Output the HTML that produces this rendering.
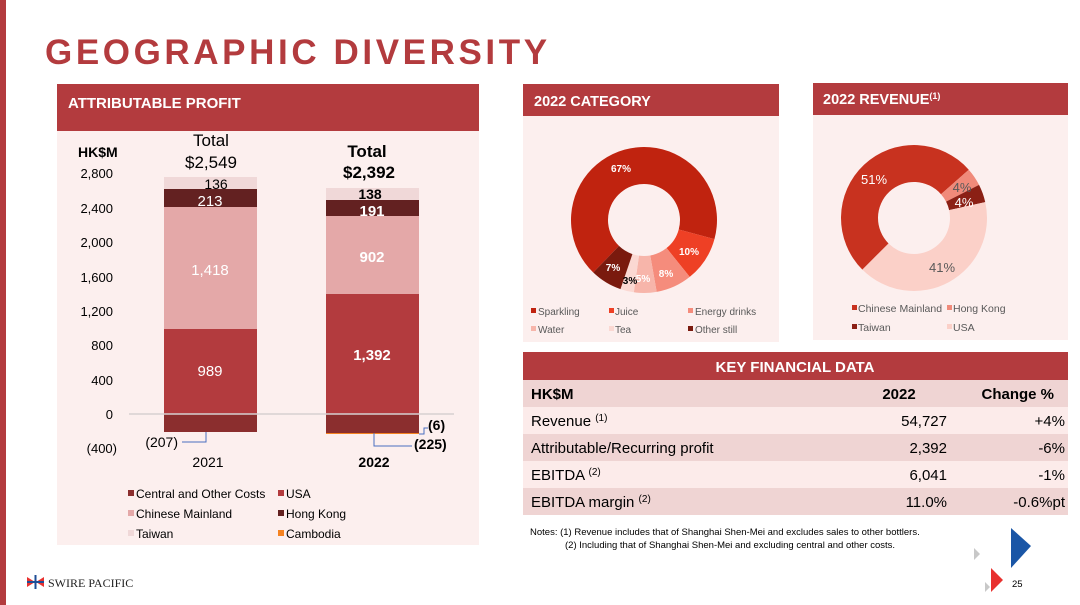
<!DOCTYPE html>
<html><head><meta charset="utf-8"><style>
html,body{margin:0;padding:0;background:#fff;}
svg{display:block;font-family:"Liberation Sans",Arial,sans-serif;}
</style></head><body>
<svg id="s" width="1080" height="605" viewBox="0 0 1080 605" xmlns="http://www.w3.org/2000/svg">
<rect x="0" y="0" width="6" height="605" fill="#b33b3e"/>
<text x="45" y="64" font-size="35" font-weight="bold" fill="#b33b3e" letter-spacing="3.6">GEOGRAPHIC DIVERSITY</text>

<rect x="57" y="131" width="422" height="414" fill="#fcefee"/>
<rect x="57" y="84" width="422" height="47" fill="#b33b3e"/>
<text x="68" y="108" font-size="15" font-weight="bold" fill="#fff">ATTRIBUTABLE PROFIT</text>

<g font-size="13" fill="#000" text-anchor="end">
<text x="113" y="178">2,800</text><text x="113" y="213">2,400</text><text x="113" y="247">2,000</text>
<text x="113" y="282">1,600</text><text x="113" y="316">1,200</text><text x="113" y="350">800</text>
<text x="113" y="385">400</text><text x="113" y="419">0</text><text x="117" y="453">(400)</text>
</g>
<text x="78" y="157" font-size="14" font-weight="bold">HK$M</text>
<rect x="164" y="414" width="93" height="18" fill="#8b2e2e"/>
<rect x="164" y="329" width="93" height="85" fill="#b33b3e"/>
<rect x="164" y="207" width="93" height="122" fill="#e4a8a8"/>
<rect x="164" y="189" width="93" height="18" fill="#632121"/>
<rect x="164" y="177" width="93" height="12" fill="#f0d8d8"/>
<rect x="326" y="414" width="93" height="19" fill="#8b2e2e"/>
<rect x="326" y="433" width="93" height="1" fill="#f58220"/>
<rect x="326" y="294" width="93" height="120" fill="#b33b3e"/>
<rect x="326" y="216" width="93" height="78" fill="#e4a8a8"/>
<rect x="326" y="200" width="93" height="16" fill="#632121"/>
<rect x="326" y="188" width="93" height="12" fill="#f0d8d8"/>
<line x1="129" y1="414" x2="454" y2="414" stroke="#d6d0d0" stroke-width="1.5"/>
<g font-size="15" fill="#fff" text-anchor="middle">
<text x="210" y="376">989</text><text x="210" y="275">1,418</text><text x="210" y="206">213</text>
<text x="372" y="360" font-weight="bold">1,392</text><text x="372" y="262" font-weight="bold">902</text><text x="372" y="216" font-weight="bold">191</text>
</g>
<text x="216" y="189" font-size="14" text-anchor="middle">136</text>
<text x="370" y="199" font-size="14" font-weight="bold" text-anchor="middle">138</text>
<text x="211" y="146" font-size="17" text-anchor="middle">Total</text>
<text x="211" y="168" font-size="17" text-anchor="middle">$2,549</text>
<text x="367" y="157" font-size="17" font-weight="bold" text-anchor="middle">Total</text>
<text x="369" y="178" font-size="17" font-weight="bold" text-anchor="middle">$2,392</text>
<polyline points="206,432 206,442 182,442" fill="none" stroke="#4a6fc0" stroke-width="1"/>
<text x="178" y="447" font-size="14" text-anchor="end">(207)</text>
<polyline points="374,433 374,446 412,446" fill="none" stroke="#4a6fc0" stroke-width="1"/>
<polyline points="419,434 424,434 424,428 428,428" fill="none" stroke="#4a6fc0" stroke-width="1"/>
<text x="428" y="430" font-size="14" font-weight="bold">(6)</text>
<text x="414" y="449" font-size="14" font-weight="bold">(225)</text>
<text x="208" y="467" font-size="14" text-anchor="middle">2021</text>
<text x="374" y="467" font-size="14" font-weight="bold" text-anchor="middle">2022</text>
<g font-size="12">
<rect x="128" y="490" width="6" height="6" fill="#8b2e2e"/><text x="136" y="498">Central and Other Costs</text>
<rect x="278" y="490" width="6" height="6" fill="#b33b3e"/><text x="286" y="498">USA</text>
<rect x="128" y="510" width="6" height="6" fill="#e4a8a8"/><text x="136" y="518">Chinese Mainland</text>
<rect x="278" y="510" width="6" height="6" fill="#632121"/><text x="286" y="518">Hong Kong</text>
<rect x="128" y="530" width="6" height="6" fill="#f0d8d8"/><text x="136" y="538">Taiwan</text>
<rect x="278" y="530" width="6" height="6" fill="#f58220"/><text x="286" y="538">Cambodia</text>
</g>

<rect x="523" y="116" width="256" height="226" fill="#fcefee"/>
<rect x="523" y="84" width="256" height="32" fill="#b33b3e"/>
<text x="534" y="106" font-size="14.5" font-weight="bold" fill="#fff">2022 CATEGORY</text>
<g id="d1"></g>
<g font-size="10" font-weight="bold" text-anchor="middle">
<text x="621" y="172" fill="#fff">67%</text><text x="689" y="255" fill="#fff">10%</text>
<text x="666" y="277" fill="#fff">8%</text><text x="643" y="282" fill="#fff">5%</text>
<text x="630" y="284" fill="#000">3%</text><text x="613" y="271" fill="#fff">7%</text>
</g>
<g font-size="10" fill="#595959">
<rect x="531" y="308" width="5" height="5" fill="#c0230f"/><text x="538" y="315">Sparkling</text>
<rect x="609" y="308" width="5" height="5" fill="#ee4025"/><text x="615" y="315">Juice</text>
<rect x="688" y="308" width="5" height="5" fill="#f58c7c"/><text x="695" y="315">Energy drinks</text>
<rect x="531" y="326" width="5" height="5" fill="#f7b5aa"/><text x="538" y="333">Water</text>
<rect x="609" y="326" width="5" height="5" fill="#fbd8d2"/><text x="615" y="333">Tea</text>
<rect x="688" y="326" width="5" height="5" fill="#7a1a0e"/><text x="695" y="333">Other still</text>
</g>

<rect x="813" y="115" width="255" height="225" fill="#fcefee"/>
<rect x="813" y="83" width="255" height="32" fill="#b33b3e"/>
<text x="823" y="104" font-size="14.5" font-weight="bold" fill="#fff">2022 REVENUE<tspan font-size="9" dy="-5">(1)</tspan></text>
<g id="d2"></g>
<g font-size="13" text-anchor="middle">
<text x="874" y="184" fill="#fff">51%</text><text x="962" y="192" fill="#595959">4%</text>
<text x="964" y="207" fill="#fff">4%</text><text x="942" y="272" fill="#595959">41%</text>
</g>
<g font-size="10.5" fill="#595959">
<rect x="852" y="305" width="5" height="5" fill="#c8321f"/><text x="858" y="312">Chinese Mainland</text>
<rect x="947" y="305" width="5" height="5" fill="#f08a7a"/><text x="953" y="312">Hong Kong</text>
<rect x="852" y="324" width="5" height="5" fill="#8b2015"/><text x="858" y="331">Taiwan</text>
<rect x="947" y="324" width="5" height="5" fill="#fbd0c8"/><text x="953" y="331">USA</text>
</g>

<rect x="523" y="352" width="545" height="28" fill="#b33b3e"/>
<text x="795" y="372" font-size="15" font-weight="bold" fill="#fff" text-anchor="middle">KEY FINANCIAL DATA</text>
<rect x="523" y="380" width="545" height="27" fill="#efd4d3"/>
<rect x="523" y="407" width="545" height="27" fill="#fcebea"/>
<rect x="523" y="434" width="545" height="27" fill="#efd4d3"/>
<rect x="523" y="461" width="545" height="27" fill="#fcebea"/>
<rect x="523" y="488" width="545" height="27" fill="#efd4d3"/>
<g font-size="15">
<text x="531" y="399" font-weight="bold">HK$M</text>
<text x="899" y="399" font-weight="bold" text-anchor="middle">2022</text>
<text x="1054" y="399" font-weight="bold" text-anchor="end">Change %</text>
<text x="531" y="426">Revenue <tspan font-size="10" dy="-5">(1)</tspan></text>
<text x="531" y="453">Attributable/Recurring profit</text>
<text x="531" y="480">EBITDA <tspan font-size="10" dy="-5">(2)</tspan></text>
<text x="531" y="507">EBITDA margin <tspan font-size="10" dy="-5">(2)</tspan></text>
<g text-anchor="end"><text x="947" y="426">54,727</text><text x="947" y="453">2,392</text><text x="947" y="480">6,041</text><text x="947" y="507">11.0%</text>
<text x="1065" y="426">+4%</text><text x="1065" y="453">-6%</text><text x="1065" y="480">-1%</text><text x="1065" y="507">-0.6%pt</text></g>
</g>
<text x="530" y="535" font-size="9.5">Notes: (1) Revenue includes that of Shanghai Shen-Mei and excludes sales to other bottlers.</text>
<text x="565" y="548" font-size="9.5">(2) Including that of Shanghai Shen-Mei and excluding central and other costs.</text>

<polygon points="27,577 35,582 27,587" fill="#e8312f"/>
<polygon points="44,577 36,582 44,587" fill="#e8312f"/>
<rect x="34.5" y="575" width="2" height="14" fill="#1f4e96"/>
<rect x="27" y="581" width="17" height="2" fill="#1f4e96"/>
<text x="48" y="587" font-size="12" font-family="Liberation Serif,serif" fill="#222">SWIRE PACIFIC</text>
<polygon points="1011,528 1031,546 1011,568" fill="#1a56a6"/>
<polygon points="974,548 980,554 974,560" fill="#c8c8c8"/>
<polygon points="991,568 1003,580 991,592" fill="#e8312f"/>
<polygon points="985,582 990,587 985,592" fill="#c8c8c8"/>
<text x="1012" y="587" font-size="9.5">25</text>
</svg>
<script>
function arc(cx,cy,R,r,a0,a1,col){
 var t=function(a,rr){var q=(a-90)*Math.PI/180;return [cx+rr*Math.cos(q),cy+rr*Math.sin(q)];};
 var la=(a1-a0)>180?1:0,p1=t(a0,R),p2=t(a1,R),p3=t(a1,r),p4=t(a0,r);
 return '<path d="M'+p1+' A'+R+','+R+' 0 '+la+' 1 '+p2+' L'+p3+' A'+r+','+r+' 0 '+la+' 0 '+p4+' Z" fill="'+col+'"/>';
}
function donut(id,cx,cy,start,vals,cols){
 var h='',a=start;for(var i=0;i<vals.length;i++){var b=a+vals[i]*3.6;h+=arc(cx,cy,73,36,a,b,cols[i]);a=b;}
 document.getElementById(id).innerHTML=h;
}
donut('d1',644,220,-136,[67,10,8,5,3,7],['#c0230f','#ee4025','#f58c7c','#f7b5aa','#fbd8d2','#7a1a0e']);
donut('d2',914,218,-135,[51,4,4,41],['#c8321f','#f08a7a','#8b2015','#fbd0c8']);
</script>
</body></html>
